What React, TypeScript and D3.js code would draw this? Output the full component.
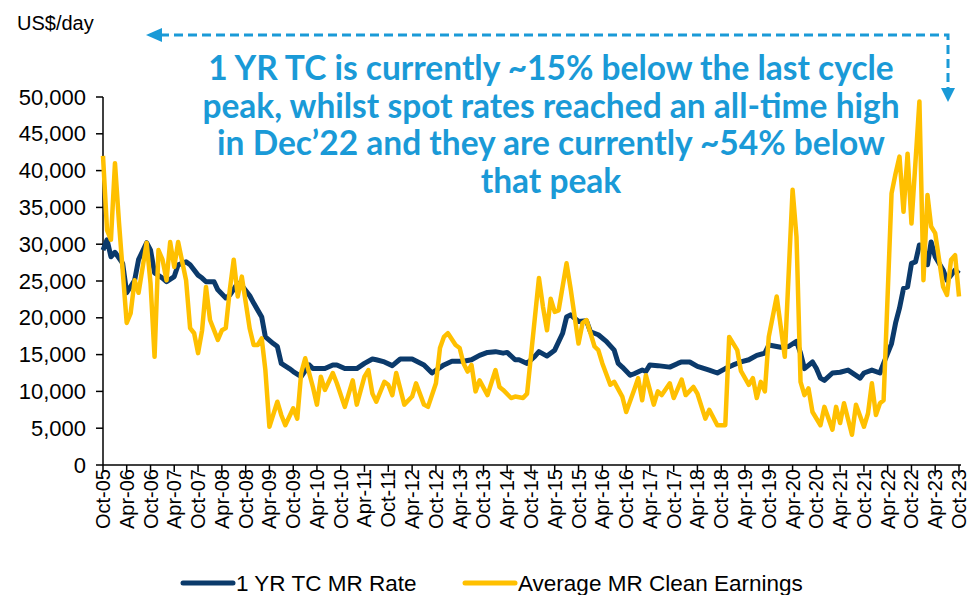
import { useEffect, useRef } from 'react';
import * as d3 from 'd3';

// 1 YR TC MR rate (US$/day)
const tcRate: [string, number][] = [
  ['2005-10', 29200], ['2005-11', 30600], ['2005-12', 28300], ['2006-01', 28900], ['2006-03', 27400],
  ['2006-04', 23400], ['2006-06', 25100], ['2006-07', 27900], ['2006-09', 30200], ['2006-10', 29200],
  ['2006-11', 26100], ['2007-01', 25400], ['2007-02', 24900], ['2007-04', 25600], ['2007-05', 27200],
  ['2007-07', 27600], ['2007-08', 27200], ['2007-10', 25800], ['2007-11', 25400], ['2007-12', 24900],
  ['2008-02', 24900], ['2008-03', 23800], ['2008-05', 22700], ['2008-06', 23100], ['2008-08', 24700],
  ['2008-09', 24400], ['2008-11', 23000], ['2008-12', 22000], ['2009-02', 20100], ['2009-03', 17400],
  ['2009-05', 16500], ['2009-06', 16100], ['2009-07', 13800], ['2009-09', 13100], ['2009-10', 12700],
  ['2009-12', 12000], ['2010-02', 13600], ['2010-03', 13100], ['2010-06', 13100], ['2010-08', 13600],
  ['2010-09', 13600], ['2010-11', 13100], ['2011-02', 13100], ['2011-04', 13800], ['2011-06', 14400],
  ['2011-07', 14300], ['2011-09', 14000], ['2011-11', 13500], ['2012-01', 14400], ['2012-04', 14400],
  ['2012-07', 13600], ['2012-09', 12500], ['2012-12', 13600], ['2013-02', 14100], ['2013-05', 14100],
  ['2013-07', 14300], ['2013-09', 14900], ['2013-11', 15300], ['2014-01', 15400], ['2014-03', 15200],
  ['2014-04', 15300], ['2014-06', 14300], ['2014-07', 14300], ['2014-09', 13800], ['2014-11', 14800],
  ['2014-12', 15400], ['2015-02', 14800], ['2015-04', 15600], ['2015-06', 17900], ['2015-07', 20100],
  ['2015-08', 20400], ['2015-10', 19500], ['2015-12', 19600], ['2016-01', 18100], ['2016-03', 17700],
  ['2016-05', 16800], ['2016-07', 15600], ['2016-08', 13800], ['2016-09', 13300], ['2016-11', 12200],
  ['2016-12', 12400], ['2017-02', 12900], ['2017-03', 12700], ['2017-04', 13600], ['2017-06', 13500],
  ['2017-09', 13300], ['2017-11', 13800], ['2017-12', 14000], ['2018-02', 14000], ['2018-04', 13400],
  ['2018-07', 12900], ['2018-09', 12500], ['2018-11', 13100], ['2019-01', 13600], ['2019-03', 14000],
  ['2019-05', 14300], ['2019-07', 14900], ['2019-09', 15200], ['2019-10', 16300], ['2019-12', 16100],
  ['2020-01', 16000], ['2020-03', 16100], ['2020-05', 16800], ['2020-06', 15200], ['2020-07', 13100],
  ['2020-09', 14000], ['2020-10', 13100], ['2020-11', 11800], ['2020-12', 11500], ['2021-02', 12500],
  ['2021-04', 12600], ['2021-06', 12900], ['2021-09', 11800], ['2021-10', 12500], ['2021-12', 12900],
  ['2022-02', 12500], ['2022-03', 13800], ['2022-05', 16500], ['2022-06', 19300], ['2022-07', 21300],
  ['2022-08', 24000], ['2022-09', 24200], ['2022-10', 27400], ['2022-11', 27600], ['2022-12', 29900],
  ['2023-01', 29700], ['2023-02', 27200], ['2023-03', 30300], ['2023-04', 28300], ['2023-06', 26500],
  ['2023-07', 25100], ['2023-08', 25800], ['2023-09', 26500], ['2023-10', 26000],
];

// Average MR clean earnings (US$/day)
const cleanEarnings: [string, number][] = [
  ['2005-10', 42000], ['2005-11', 31900], ['2005-12', 30600], ['2006-01', 41000], ['2006-02', 32900],
  ['2006-04', 19300], ['2006-05', 20600], ['2006-06', 25100], ['2006-07', 23400], ['2006-09', 30200],
  ['2006-10', 24700], ['2006-11', 14700], ['2006-12', 29200], ['2007-01', 27900], ['2007-02', 25100],
  ['2007-03', 30300], ['2007-04', 26900], ['2007-05', 30300], ['2007-07', 25100], ['2007-08', 18600],
  ['2007-09', 17900], ['2007-10', 15200], ['2007-11', 18300], ['2007-12', 24200], ['2008-01', 19700],
  ['2008-03', 17000], ['2008-04', 18300], ['2008-05', 18600], ['2008-06', 23800], ['2008-07', 27900],
  ['2008-08', 22900], ['2008-09', 25600], ['2008-11', 18500], ['2008-12', 16300], ['2009-01', 16300],
  ['2009-02', 17200], ['2009-03', 12900], ['2009-04', 5200], ['2009-06', 8600], ['2009-07', 6800],
  ['2009-08', 5400], ['2009-10', 7700], ['2009-11', 6300], ['2009-12', 12500], ['2010-01', 14500],
  ['2010-03', 10600], ['2010-04', 8200], ['2010-05', 12000], ['2010-06', 10200], ['2010-08', 12500],
  ['2010-09', 11100], ['2010-11', 7900], ['2011-01', 11500], ['2011-02', 8200], ['2011-04', 12000],
  ['2011-05', 12900], ['2011-06', 9700], ['2011-07', 8600], ['2011-09', 11300], ['2011-10', 10900],
  ['2011-11', 9500], ['2011-12', 12500], ['2012-02', 8200], ['2012-04', 9300], ['2012-05', 11100],
  ['2012-07', 8200], ['2012-08', 7900], ['2012-10', 11100], ['2012-11', 15900], ['2012-12', 17400],
  ['2013-01', 17900], ['2013-03', 16300], ['2013-04', 15900], ['2013-05', 13800], ['2013-06', 12700],
  ['2013-07', 13600], ['2013-08', 10000], ['2013-09', 11500], ['2013-11', 9500], ['2014-01', 12900],
  ['2014-02', 10600], ['2014-03', 10200], ['2014-05', 9100], ['2014-06', 9300], ['2014-08', 9100],
  ['2014-09', 9700], ['2014-12', 25400], ['2015-01', 21500], ['2015-02', 18300], ['2015-03', 22600],
  ['2015-04', 20800], ['2015-05', 21000], ['2015-07', 27400], ['2015-08', 24000], ['2015-10', 16500],
  ['2015-11', 19300], ['2015-12', 19700], ['2016-02', 16100], ['2016-03', 15600], ['2016-04', 13800],
  ['2016-06', 10900], ['2016-07', 11300], ['2016-09', 9300], ['2016-10', 7200], ['2016-12', 10200],
  ['2017-01', 11800], ['2017-02', 8800], ['2017-03', 12200], ['2017-05', 8200], ['2017-06', 10000],
  ['2017-07', 9500], ['2017-09', 11100], ['2017-10', 9100], ['2017-12', 11600], ['2018-01', 9500],
  ['2018-03', 10600], ['2018-04', 9700], ['2018-06', 6300], ['2018-07', 7500], ['2018-09', 5400],
  ['2018-11', 5400], ['2018-12', 17400], ['2019-02', 15600], ['2019-03', 12800], ['2019-05', 10900],
  ['2019-06', 11800], ['2019-07', 9100], ['2019-08', 11300], ['2019-09', 10000], ['2019-10', 17400],
  ['2019-12', 22900], ['2020-02', 14700], ['2020-04', 37400], ['2020-05', 31000], ['2020-06', 11300],
  ['2020-07', 9500], ['2020-08', 10400], ['2020-09', 7200], ['2020-11', 5400], ['2020-12', 7900],
  ['2021-02', 4800], ['2021-03', 7900], ['2021-04', 5700], ['2021-05', 8400], ['2021-07', 4100],
  ['2021-08', 8200], ['2021-10', 5200], ['2021-11', 7000], ['2021-12', 11100], ['2022-01', 6800],
  ['2022-02', 8400], ['2022-03', 8800], ['2022-05', 36900], ['2022-06', 39600], ['2022-07', 41900],
  ['2022-08', 34400], ['2022-09', 42300], ['2022-10', 32800], ['2022-12', 49400], ['2023-01', 25100],
  ['2023-02', 36700], ['2023-03', 32400], ['2023-04', 31500], ['2023-06', 24200], ['2023-07', 23100],
  ['2023-08', 27900], ['2023-09', 28500], ['2023-10', 22900],
];

const yTicks = [0, 5000, 10000, 15000, 20000, 25000, 30000, 35000, 40000, 45000, 50000];
const seriesNames = ['1 YR TC MR Rate', 'Average MR Clean Earnings'];
const seriesColors = ['#0B3A6B', '#FFC000'];
const noteLines = [
  '1 YR TC is currently ~15% below the last cycle',
  'peak, whilst spot rates reached an all-time high',
  'in Dec\u201922 and they are currently ~54% below',
  'that peak',
];

const W = 970;
const H = 595;

export default function App() {
  const svgRef = useRef<SVGSVGElement>(null);

  useEffect(() => {
    if (!svgRef.current) return;
    document.body.style.margin = '0';

    const svg = d3.select(svgRef.current);
    svg.selectAll('*').remove();
    svg.attr('width', W).attr('height', H);

    const parse = d3.timeParse('%Y-%m');
    const fmt = d3.timeFormat('%b-%y');
    const start = parse('2005-10')!;
    const end = parse('2023-10')!;

    const x = d3.scaleTime().domain([start, end]).range([103, 959]);
    const y = d3.scaleLinear().domain([0, 50000]).range([465, 97]);

    const font = 'Liberation Sans, Arial, sans-serif';

    // y axis
    svg.append('line')
      .attr('x1', 103).attr('x2', 103)
      .attr('y1', y(50000)).attr('y2', y(0))
      .attr('stroke', '#000').attr('stroke-width', 1.5);
    yTicks.forEach((t) => {
      svg.append('line')
        .attr('x1', 96).attr('x2', 103)
        .attr('y1', y(t)).attr('y2', y(t))
        .attr('stroke', '#000').attr('stroke-width', 1.5);
      svg.append('text')
        .attr('x', 86)
        .attr('y', y(t))
        .attr('text-anchor', 'end')
        .attr('dominant-baseline', 'central')
        .attr('font-family', font)
        .attr('font-size', 22)
        .attr('fill', '#000')
        .text(d3.format(',')(t));
    });

    svg.append('text')
      .attr('x', 17).attr('y', 30)
      .attr('font-family', font)
      .attr('font-size', 20)
      .attr('fill', '#000')
      .text('US$/day');

    // x axis: a tick every six months from Oct-05
    const xTicks = d3.timeMonth.range(start, d3.timeMonth.offset(end, 1), 6);
    svg.append('line')
      .attr('x1', 103).attr('x2', 961)
      .attr('y1', 465).attr('y2', 465)
      .attr('stroke', '#000').attr('stroke-width', 1.5);
    xTicks.forEach((t) => {
      svg.append('line')
        .attr('x1', x(t)).attr('x2', x(t))
        .attr('y1', 465).attr('y2', 472)
        .attr('stroke', '#000').attr('stroke-width', 1.5);
      svg.append('text')
        .attr('transform', `translate(${x(t)},${469}) rotate(-90)`)
        .attr('text-anchor', 'end')
        .attr('dominant-baseline', 'central')
        .attr('font-family', font)
        .attr('font-size', 20)
        .attr('fill', '#000')
        .text(fmt(t));
    });

    // series
    const line = d3.line<[string, number]>()
      .x((d) => x(parse(d[0])!))
      .y((d) => y(d[1]));

    [tcRate, cleanEarnings].forEach((data, i) => {
      svg.append('path')
        .datum(data)
        .attr('d', line)
        .attr('fill', 'none')
        .attr('stroke', seriesColors[i])
        .attr('stroke-width', i === 0 ? 5 : 4.5)
        .attr('stroke-linejoin', 'round');
    });

    // annotation
    const blue = '#1A9AD7';
    noteLines.forEach((s, i) => {
      svg.append('text')
        .attr('x', 551)
        .attr('y', 80 + i * 37.5)
        .attr('text-anchor', 'middle')
        .attr('font-family', 'Lato, sans-serif')
        .attr('font-weight', 700)
        .attr('font-size', 33.5)
        .attr('fill', blue)
        .text(s);
    });

    svg.append('path')
      .attr('d', 'M160,35 H948 V90')
      .attr('fill', 'none')
      .attr('stroke', blue)
      .attr('stroke-width', 3)
      .attr('stroke-dasharray', '9,5');
    svg.append('path')
      .attr('d', 'M146,35 L162,28 L162,42 Z')
      .attr('fill', blue);
    svg.append('path')
      .attr('d', 'M941,88 L955,88 L948,102 Z')
      .attr('fill', blue);

    // legend
    const legendX = [183, 465];
    seriesNames.forEach((name, i) => {
      svg.append('line')
        .attr('x1', legendX[i]).attr('x2', legendX[i] + 50)
        .attr('y1', 583).attr('y2', 583)
        .attr('stroke', seriesColors[i])
        .attr('stroke-width', 5)
        .attr('stroke-linecap', 'round');
      svg.append('text')
        .attr('x', legendX[i] + 53)
        .attr('y', 583)
        .attr('dominant-baseline', 'central')
        .attr('font-family', font)
        .attr('font-size', 22.5)
        .attr('fill', '#000')
        .text(name);
    });
  }, []);

  return <svg ref={svgRef} />;
}
